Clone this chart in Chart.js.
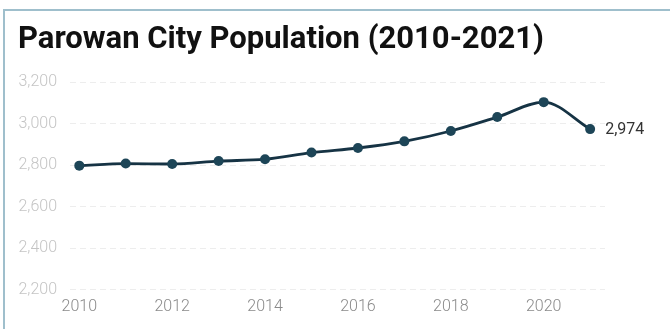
<!DOCTYPE html>
<html>
<head>
<meta charset="utf-8">
<script src="https://cdn.jsdelivr.net/npm/chart.js@4.4.1/dist/chart.umd.min.js"></script>
<style>
    body { margin: 0; background: #fff; }
    #frame {
        position: absolute; left: 3px; top: 9px; width: 720px; height: 400px;
        border-left: 2px solid #9fbfcc; border-top: 2px solid #9fbfcc;
    }
    #chart { position: absolute; left: 0; top: 0; }
</style>
</head>
<body>
<div id="frame"></div>
<canvas id="chart" width="670" height="329"></canvas>
<script>
    // dados
    const years = [2010, 2011, 2012, 2013, 2014, 2015, 2016, 2017, 2018, 2019, 2020, 2021]
    const population = [2798, 2808, 2806, 2820, 2829, 2861, 2883, 2915, 2965, 3032, 3104, 2974]
    const xTicks = [2010, 2012, 2014, 2016, 2018, 2020]
    const titleText = 'Parowan City Population (2010-2021)'

    // rótulo do último ponto
    const lastLabel = {
        id: 'lastLabel',
        afterDatasetsDraw(chart) {
            const meta = chart.getDatasetMeta(0)
            const pt = meta.data[meta.data.length - 1]
            const ctx = chart.ctx
            ctx.save()
            ctx.font = '16px Roboto'
            ctx.fillStyle = '#333'
            ctx.textBaseline = 'middle'
            ctx.fillText(population[population.length - 1].toLocaleString('en-US'), pt.x + 15, pt.y + 1)
            ctx.restore()
        }
    }

    const ctx = document.getElementById('chart').getContext('2d')
    new Chart(ctx, {
        type: 'line',
        data: {
            datasets: [{
                data: years.map((y, i) => ({ x: y, y: population[i] })),
                borderColor: '#163344',
                backgroundColor: '#1d4557',
                borderWidth: 2.8,
                pointRadius: 5,
                pointBackgroundColor: '#1d4557',
                pointBorderWidth: 0,
                cubicInterpolationMode: 'monotone'
            }]
        },
        options: {
            responsive: false,
            animation: false,
            layout: { padding: { left: 18, right: 65, bottom: 4, top: 0 } },
            scales: {
                x: {
                    type: 'linear',
                    min: 2009.8,
                    max: 2021.32,
                    afterBuildTicks: axis => { axis.ticks = xTicks.map(v => ({ value: v })) },
                    grid: { display: false, drawTicks: false },
                    border: { display: false },
                    ticks: {
                        padding: 8,
                        color: '#8a8a8a',
                        font: { family: 'Roboto', size: 16, weight: '300' },
                        callback: v => String(v)
                    }
                },
                y: {
                    min: 2200,
                    max: 3200,
                    afterFit: axis => { axis.width = 52 },
                    grid: { color: '#ededed', drawTicks: false },
                    border: { display: false, dash: [6, 4] },
                    ticks: {
                        stepSize: 200,
                        padding: 13,
                        color: '#c4c4c4',
                        font: { family: 'Roboto', size: 16, weight: '300' },
                        callback: v => v.toLocaleString('en-US')
                    }
                }
            },
            plugins: {
                legend: { display: false },
                tooltip: { enabled: false },
                title: {
                    display: true,
                    text: titleText,
                    align: 'start',
                    color: '#111',
                    font: { family: 'Roboto', size: 31, weight: 'bold' },
                    padding: { top: 22, bottom: 23 }
                }
            }
        },
        plugins: [lastLabel]
    })
</script>
</body>
</html>
